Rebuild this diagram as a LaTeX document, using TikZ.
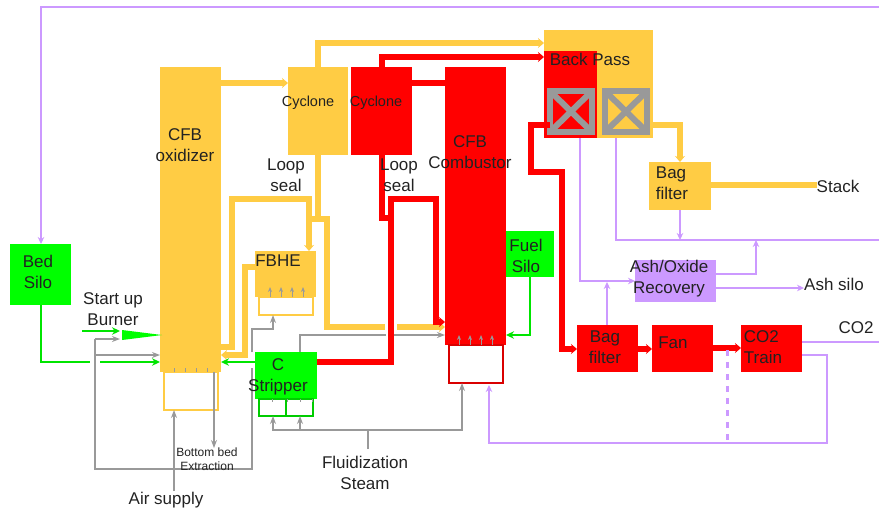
\documentclass[tikz,border=0pt]{standalone}
\usepackage{fontspec}
\setsansfont{Liberation Sans}
\usetikzlibrary{arrows.meta, positioning}
\definecolor{oxyellow}{HTML}{FFCC44}
\definecolor{ashpurple}{HTML}{CC99FF}
\definecolor{linegray}{HTML}{999999}
\definecolor{inktext}{HTML}{222222}

\begin{document}
\begin{tikzpicture}[
    x=1pt, y=-1pt,
    font=\sffamily,
    >=Stealth,
    box/.style={inner sep=0pt, outer sep=0pt, anchor=north west},
    yellowbox/.style={box, fill=oxyellow},
    redbox/.style={box, fill=red},
    greenbox/.style={box, fill=green},
    purplebox/.style={box, fill=ashpurple},
    basebox/.style={inner sep=0pt, outer sep=0pt, fill=white, line width=2pt, minimum width=54, minimum height=#1},
    gridbox/.style={box, draw=linegray, line width=6pt, minimum width=42, minimum height=41},
    txt/.style={inner sep=0pt, align=center, text=inktext, font=\sffamily\fontsize{17}{21}\selectfont},
    txtsmall/.style={txt, font=\sffamily\fontsize{14.5}{21}\selectfont},
    txttiny/.style={txt, font=\sffamily\fontsize{12}{14}\selectfont},
    yellowline/.style={draw=oxyellow, line width=6pt},
    redline/.style={draw=red, line width=6pt},
    thickarrow/.style={-{Stealth[length=6pt, width=10pt]}},
    purpleline/.style={draw=ashpurple, line width=2.6pt, -{Stealth[length=7pt, width=6.5pt]}},
    greenline/.style={draw=green!90!black, line width=2.6pt, -{Stealth[length=8pt, width=7.5pt]}},
    grayline/.style={draw=linegray, line width=1.3pt, -{Stealth[length=8pt, width=6pt]}},
    gridcross/.style={draw=linegray, line width=6pt}
]
\useasboundingbox (0,0) rectangle (879,512);

% 1. Oxidizer side
\node[yellowbox, minimum width=61, minimum height=305] (Oxidizer) at (160,67) {};
\node[basebox=38, draw=oxyellow, below=0pt of Oxidizer] (OxidizerBase) {};
\node[yellowbox, minimum width=60, minimum height=88] (CycloneOx) at (288,67) {};
\node[yellowbox, minimum width=61, minimum height=46] (FBHE) at (255,251) {};
\node[basebox=18, draw=oxyellow, below=0pt of FBHE] (FBHEBase) {};
\node[greenbox, minimum width=61, minimum height=61] (BedSilo) at (10,244) {};
\node[greenbox, minimum width=62, minimum height=47] (Stripper) at (255,352) {};
\node[basebox=17, draw=green!80!black, below=0pt of Stripper] (StripperBase) {};
\draw[draw=green!80!black, line width=2pt] (StripperBase.north) -- (StripperBase.south);

% 2. Combustor side
\node[redbox, minimum width=61, minimum height=278] (Combustor) at (445,67) {};
\node[redbox, minimum width=61, minimum height=88] (CycloneFuel) at (351,67) {};
\node[basebox=38, draw=red!85!black, below=0pt of Combustor] (CombustorBase) {};
\node[greenbox, minimum width=48, minimum height=46] (FuelSilo) at (506,231) {};

% 3. Back pass
\node[yellowbox, minimum width=109, minimum height=108] (BackPassOx) at (544,30) {};
\node[redbox, minimum width=53, minimum height=87] (BackPassFuel) at (544,51) {};
\node[gridbox] (GridFuel) at (550,91) {};
\node[gridbox] (GridOx) at (605,91) {};
\draw[gridcross] (GridFuel.north west) -- (GridFuel.south east);
\draw[gridcross] (GridFuel.north east) -- (GridFuel.south west);
\draw[gridcross] (GridOx.north west) -- (GridOx.south east);
\draw[gridcross] (GridOx.north east) -- (GridOx.south west);

% 4. Gas cleaning
\node[yellowbox, minimum width=62, minimum height=48] (BagOx) at (649,162) {};
\node[purplebox, minimum width=81, minimum height=42] (Recovery) at (635,260) {};
\node[redbox, minimum width=61, minimum height=47] (BagFuel) at (577,325) {};
\node[redbox, minimum width=61, minimum height=47] (Fan) at (652,325) {};
\node[redbox, minimum width=61, minimum height=47] (Train) at (741,325) {};
\node[txt] (StackText) at (838,186) {Stack};
\node[txt] (AshText) at (834,284) {Ash silo};
\coordinate (RimTop) at (879,7);
\coordinate (RimGrid) at (879,240);
\coordinate (RimCO2) at (879,342);

% Burner
\coordinate (Burner) at (122,335);
\fill[green] (Burner) ++(0,-5) -- (162,335) -- ++(-40,5) -- cycle;

% Small nozzles
\foreach \xpos in {270,281,292,303}
    \draw[grayline, -{Stealth[length=5pt, width=4pt]}, line width=1pt] (\xpos,297) -- (\xpos,287);
\foreach \xpos in {459,470,481,492}
    \draw[grayline, -{Stealth[length=5pt, width=4pt]}, line width=1pt] (\xpos,345) -- (\xpos,335);
\foreach \xpos in {174,185,196,207}
    \draw[draw=linegray, line width=0.9pt] (\xpos,372) -- (\xpos,368);
\foreach \xpos in {272,287,300,312}
    \draw[draw=linegray, line width=0.9pt] (\xpos,399) -- (\xpos,402);

% Arrows: yellow
\draw[yellowline, thickarrow] (Oxidizer.east |- 0,83) -- (CycloneOx.west |- 0,83);
\draw[yellowline, thickarrow] (CycloneOx.north) -- (318,43) -- (BackPassOx.west |- 0,43);
\draw[yellowline] (CycloneOx.south) -- (318,219);
\draw[yellowline] (310,219) -- (327,219) -- (327,327) -- (385,327);
\draw[yellowline, thickarrow] (397,327) -- (Combustor.west |- 0,327);
\draw[yellowline, thickarrow] (Oxidizer.east |- 0,347) -- (232,347) -- (232,199) -- (309,199) -- (FBHE.north -| 309,0);
\draw[yellowline, thickarrow] (FBHE.west |- 0,267) -- (245,267) -- (245,355) -- (Oxidizer.east |- 0,355);
\draw[yellowline, thickarrow] (BackPassOx.east |- 0,125) -- (680,125) -- (BagOx.north -| 680,0);
\draw[yellowline] (BagOx.east |- 0,185) -- (StackText.west |- 0,185);

% Arrows: red
\draw[redline, thickarrow] (CycloneFuel.north -| 382,0) -- (382,57) -- (BackPassFuel.west |- 0,57);
\draw[redline] (CycloneFuel.east |- 0,83) -- (Combustor.west |- 0,83);
\draw[redline] (CycloneFuel.south -| 382,0) -- (382,218) -- (391,218);
\draw[redline, thickarrow] (Stripper.east |- 0,362) -- (391,362) -- (391,199) -- (436,199) -- (436,322) -- (Combustor.west |- 0,322);
\draw[redline, thickarrow] (GridFuel.west |- 0,125) -- (531,125) -- (531,172) -- (562,172) -- (562,349) -- (BagFuel.west |- 0,349);
\draw[redline, thickarrow] (BagFuel.east |- 0,349) -- (Fan.west |- 0,349);
\draw[redline, thickarrow] (Fan.east |- 0,348) -- (Train.west |- 0,348);

% Arrows: green
\draw[greenline, -] (BedSilo.south -| 41,0) -- (41,362) -- (90,362);
\draw[greenline] (100,362) -- (Oxidizer.west |- 0,362);
\draw[greenline] (82,331) -- (120,331);
\draw[greenline] (Stripper.west |- 0,362) -- (Oxidizer.east |- 0,362);
\draw[greenline] (FuelSilo.south -| 530,0) -- (530,335) -- (Combustor.east |- 0,335);

% Arrows: gray
\draw[grayline] (95,339) -- (120,339);
\draw[grayline] (95,355) -- (Oxidizer.west |- 0,355);
\draw[draw=linegray, line width=1.3pt] (95,339) -- (95,469) -- (252,469) -- (252,368);
\draw[grayline] (252,352) -- (252,329) -- (273,329) -- (FBHEBase.south -| 273,0);
\draw[grayline] (174,491) -- (OxidizerBase.south -| 174,0);
\draw[grayline] (214,372) -- (214,448);
\draw[draw=linegray, line width=1.3pt] (Stripper.north -| 300,0) -- (300,335) -- (386,335);
\draw[grayline] (394,335) -- (Combustor.west |- 0,335);
\draw[draw=linegray, line width=1.3pt] (368,449) -- (368,430);
\draw[grayline] (368,430) -- (462,430) -- (CombustorBase.south -| 462,0);
\draw[grayline] (368,430) -- (273,430) -- (StripperBase.south -| 273,0);
\draw[grayline] (300,430) -- (StripperBase.south -| 300,0);

% Arrows: purple
\draw[purpleline] (RimTop) -- (41,7) -- (BedSilo.north -| 41,0);
\draw[purpleline] (BackPassFuel.south -| 580,0) -- (580,281) -- (Recovery.west |- 0,281);
\draw[purpleline, -] (BackPassOx.south -| 616,0) -- (616,240) -- (RimGrid);
\draw[purpleline] (BagOx.south -| 680,0) -- (680,240);
\draw[purpleline] (Recovery.east |- 0,274) -- (756,274) -- (756,240);
\draw[purpleline] (Recovery.east |- 0,288) -- (AshText.west |- 0,288);
\draw[purpleline] (BagFuel.north -| 607,0) -- (607,282);
\draw[purpleline, -] (Train.east |- 0,342) -- (RimCO2);
\draw[purpleline] (Train.east |- 0,355) -- (827,355) -- (827,443) -- (489,443) -- (489,385);
\draw[purpleline, -, dash pattern=on 6pt off 6pt, line width=3pt] (727,350) -- (727,443);

% Texts
\node[txt] (OxidizerText) at (185,145) {CFB\\oxidizer};
\node[txtsmall] (CycloneOxText) at (308,103) {Cyclone};
\node[txtsmall] (CycloneFuelText) at (376,103) {Cyclone};
\node[txt] (SealOxText) at (286,175) {Loop\\seal};
\node[txt] (SealFuelText) at (399,175) {Loop\\seal};
\node[txt] (CombustorText) at (470,152) {CFB\\Combustor};
\node[txt] (BackPassText) at (590,59) {Back Pass};
\node[txt, align=left] (BagOxText) at (672,183) {Bag\\filter};
\node[txt] (FBHEText) at (278,261) {FBHE};
\node[txt] (BedSiloText) at (38,272) {Bed\\Silo};
\node[txt] (FuelSiloText) at (526,256) {Fuel\\Silo};
\node[txt] (BurnerText) at (113,309) {Start up\\Burner};
\node[txt] (StripperText) at (278,377) {C\\Stripper};
\node[txt] (RecoveryText) at (669,279) {Ash/Oxide\\Recovery};
\node[txt] (BagFuelText) at (605,347) {Bag\\filter};
\node[txt] (FanText) at (673,343) {Fan};
\node[txt, align=left] (TrainText) at (763,347) {CO2\\Train};
\node[txt] (CO2Text) at (856,328) {CO2};
\node[txt] (SteamText) at (365,473) {Fluidization\\Steam};
\node[txt] (AirText) at (166,500) {Air supply};
\node[txttiny] (BottomText) at (207,459) {Bottom bed\\Extraction};

\end{tikzpicture}
\end{document}
